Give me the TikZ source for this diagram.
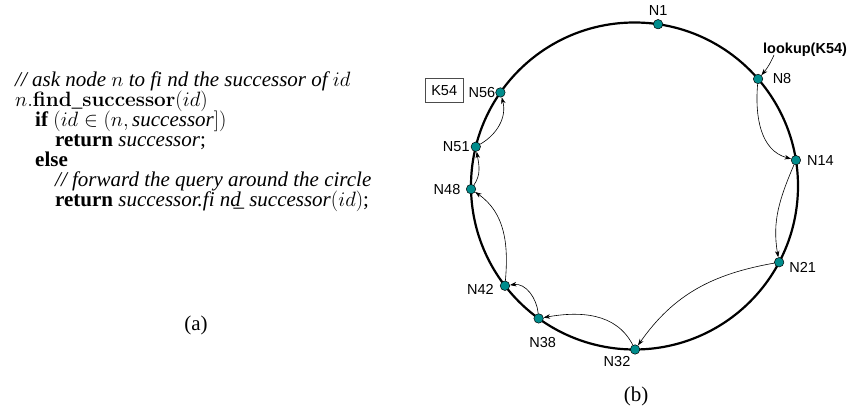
\documentclass[tikz,border=0pt]{standalone}
\usepackage[no-math]{fontspec}
\setmainfont{Liberation Serif}
\setsansfont{Liberation Sans}
\usetikzlibrary{arrows.meta}
\definecolor{peercol}{RGB}{0,140,140}
\begin{document}
\begin{tikzpicture}[x=1pt,y=1pt,
 peer/.style={circle,draw,line width=0.5pt,fill=peercol,inner sep=0pt,minimum size=9.5pt},
 lbl/.style={font=\sffamily\fontsize{14.5}{16}\selectfont,inner sep=1pt},
 code/.style={anchor=base west,inner sep=0pt,text height=14pt,text depth=4pt,font=\fontsize{21}{20}\selectfont},
 hop/.style={-{Stealth[length=6.5pt,width=4.5pt,inset=2pt]},line width=0.6pt}]
 \useasboundingbox (-634.5,-228) rectangle (216.5,186);
 % (a) 擬似コード
 \node[code] (c1) at (-619.5,99) {\textit{// ask node $n$ to fi nd the successor of $id$}};
 \node[code] (c2) at (-619.5,79) {$n.\mathbf{find\_successor}(id)$};
 \node[code] (c3) at (-599.5,59) {\textbf{if} $(id \in (n, \textit{successor}])$};
 \node[code] (c4) at (-579.5,39) {\textbf{return} \textit{successor};};
 \node[code] (c5) at (-599.5,19) {\textbf{else}};
 \node[code] (c6) at (-579.5,-1) {\textit{// forward the query around the circle}};
 \node[code] (c7) at (-579.5,-21) {\textbf{return} \textit{successor.fi nd\kern-0.35em\_\ successor}$(id)$;};
 \node[font=\fontsize{21}{20}\selectfont] (capa) at (-438.5,-139) {(a)};
 % (b) リング
 \draw[line width=2.2pt] (0,0) circle (163.5); %円
 \node[peer,label={[lbl,label distance=3pt]above:N1}] (n1) at (81.7:163.5) {};
 \node[peer,label={[lbl,label distance=8.5pt]right:N8}] (n8) at (40.9:163.5) {};
 \node[peer,label={[lbl,label distance=5pt]right:N14}] (n14) at (9.1:163.5) {};
 \node[peer,label={[lbl,label distance=4pt,yshift=-5pt]right:N21}] (n21) at (-27.8:163.5) {};
 \node[peer,label={[lbl,label distance=0pt,yshift=-2pt]below left:N32}] (n32) at (-89.8:163.5) {};
 \node[peer,label={[lbl,label distance=13pt,xshift=4pt]below:N38}] (n38) at (-125.9:163.5) {};
 \node[peer,label={[lbl,label distance=5pt,yshift=-4pt]left:N42}] (n42) at (-142.4:163.5) {};
 \node[peer,label={[lbl,label distance=4.5pt]left:N48}] (n48) at (-178.9:163.5) {};
 \node[peer,label={[lbl,label distance=0pt]left:N51}] (n51) at (166.1:163.5) {};
 \node[peer,label={[lbl,label distance=-1pt]left:N56}] (n56) at (145.1:163.5) {};
 \node[lbl,draw=black!70,line width=0.5pt,minimum width=38pt,minimum height=24pt] (k54) at (-190.3,95.7) {K54}; %キー
 \node[lbl,anchor=base west,font=\sffamily\bfseries\fontsize{14.5}{16}\selectfont] (lookup) at (127.5,132.5) {lookup(K54)};
 \coordinate (lk) at (139.5,131);
 \draw[hop] (lk) to[bend left=8] (n8); %問い合わせ
 % 経路
 \draw[hop] (n8) to[out=-95,in=165] (n14);
 \draw[hop] (n14) to[out=-113,in=100] (n21);
 \draw[hop] (n21) to[out=190,in=55] (n32);
 \draw[hop] (n32) to[out=117,in=10] (n38);
 \draw[hop] (n38) to[out=95,in=8] (n42);
 \draw[hop] (n42) to[out=85,in=-35] (n48);
 \draw[hop] (n48) to[out=55,in=-80] (n51);
 \draw[hop] (n51) to[out=30,in=-75] (n56);
 \node[font=\fontsize{21}{20}\selectfont] (capb) at (1.5,-210) {(b)};
\end{tikzpicture}
\end{document}
